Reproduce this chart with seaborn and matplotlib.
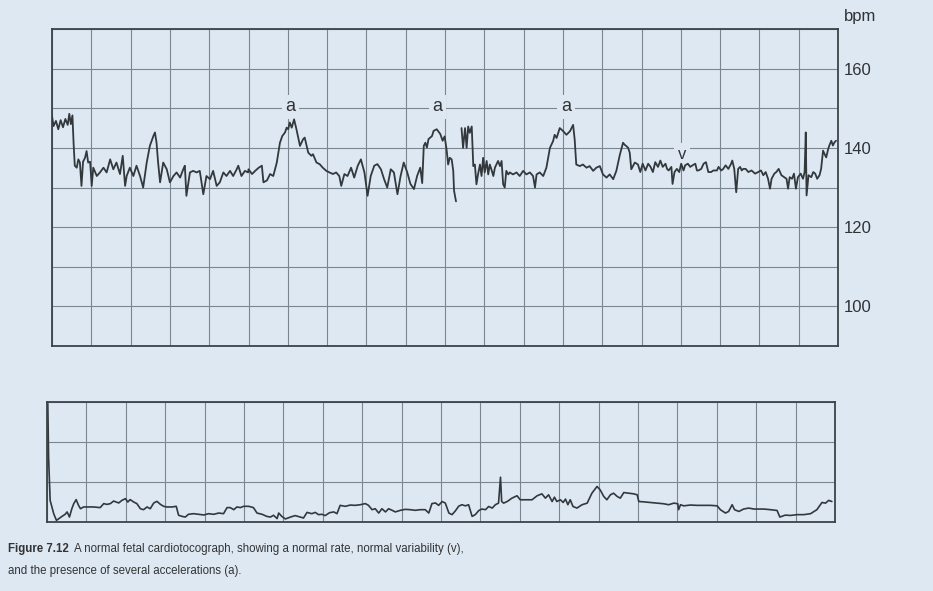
"""CTG trace - normal fetal cardiotocograph (Figure 7.12)"""

import pandas as pd
import matplotlib.pyplot as plt
import seaborn as sns

sns.set_style("white")
plt.rcParams['font.family'] = ['Liberation Sans', 'DejaVu Sans']

PAPER = '#dde8f2'
GRID = '#7a8791'
INK = '#33383d'

# --- fetal heart rate (minutes, bpm); pen lifts after GAP_AT ---
fhr_time = [
    0.00, 0.04, 0.10, 0.16, 0.22, 0.28, 0.34, 0.40, 0.44, 0.48, 0.52,
    0.55, 0.58, 0.63, 0.67, 0.71, 0.75, 0.79, 0.84, 0.88, 0.92, 0.97, 1.01,
    1.05, 1.14, 1.22, 1.31, 1.39, 1.48, 1.56, 1.64, 1.73, 1.80, 1.86, 1.90,
    1.98, 2.07, 2.15, 2.24, 2.32, 2.41, 2.49, 2.58, 2.62, 2.66, 2.70, 2.75,
    2.83, 2.92, 3.00, 3.09, 3.17, 3.26, 3.34, 3.38, 3.42, 3.51, 3.59, 3.68,
    3.76, 3.85, 3.93, 4.02, 4.10, 4.19, 4.27, 4.36, 4.44, 4.53, 4.61, 4.70,
    4.74, 4.82, 4.91, 4.99,
    5.00, 5.09, 5.17, 5.26, 5.34, 5.38, 5.47, 5.55, 5.63, 5.72, 5.80, 5.86,
    5.93, 5.97, 6.01, 6.05, 6.10, 6.16, 6.22, 6.31, 6.39, 6.43, 6.52, 6.60,
    6.64, 6.73, 6.81, 6.89, 6.98, 7.06, 7.15, 7.23, 7.31, 7.36, 7.44, 7.52,
    7.61, 7.69, 7.78, 7.86, 7.95, 8.03, 8.11, 8.20, 8.28, 8.37, 8.45, 8.53,
    8.62, 8.70, 8.79, 8.87, 8.95, 9.04, 9.12, 9.21, 9.29, 9.37, 9.42, 9.46,
    9.50, 9.54, 9.58, 9.67, 9.71, 9.79, 9.88, 9.94,
    9.99, 10.04, 10.08, 10.12, 10.17, 10.21, 10.23, 10.28,
    10.42, 10.46, 10.51, 10.55, 10.59, 10.63, 10.68, 10.72, 10.76, 10.80,
    10.84, 10.89, 10.93, 10.97, 11.01, 11.06, 11.10, 11.14, 11.18, 11.23,
    11.27, 11.35, 11.40, 11.44, 11.48, 11.52, 11.56, 11.61, 11.65, 11.73,
    11.82, 11.90, 11.99, 12.07, 12.16, 12.24, 12.29, 12.33, 12.41, 12.50,
    12.58, 12.67, 12.75, 12.79, 12.84, 12.92, 13.01, 13.09, 13.18, 13.26,
    13.30, 13.34, 13.43, 13.51, 13.60, 13.68, 13.77, 13.85, 13.94, 14.02,
    14.11, 14.19, 14.28, 14.36, 14.45, 14.53, 14.57, 14.62, 14.66, 14.70,
    14.74, 14.83, 14.91,
    14.97, 15.03, 15.10, 15.17, 15.23, 15.29, 15.35, 15.42, 15.48, 15.54,
    15.61, 15.65, 15.69, 15.76, 15.79, 15.84, 15.90, 15.96, 16.01, 16.07,
    16.11, 16.18, 16.24, 16.30, 16.37, 16.41, 16.45, 16.52, 16.58, 16.64,
    16.70, 16.77, 16.83, 16.92, 16.96, 17.03, 17.08, 17.14, 17.21, 17.28,
    17.31, 17.36, 17.41, 17.46, 17.51, 17.55, 17.59, 17.65, 17.72, 17.80,
    17.89, 17.97, 18.04, 18.10, 18.16, 18.22, 18.27, 18.31, 18.38, 18.43,
    18.49, 18.56, 18.63, 18.69, 18.73, 18.77, 18.83, 18.88, 18.93, 18.98,
    19.05, 19.11, 19.15, 19.18, 19.20, 19.25, 19.32, 19.37, 19.42, 19.47,
    19.53, 19.57, 19.62, 19.66, 19.70, 19.75, 19.78, 19.83, 19.87, 19.91,
    19.95,
]
fhr_bpm = [
    148.0, 145.5, 146.8, 144.7, 147.0, 145.2, 147.3, 145.8, 148.6, 146.0, 148.2,
    141.0, 135.5, 135.0, 137.1, 136.3, 130.4, 136.5, 137.5, 139.2, 136.3, 136.5, 130.4,
    135.0, 132.9, 133.8, 135.0, 133.8, 137.1, 134.6, 136.3, 133.4, 138.0, 130.4, 132.9,
    135.0, 132.9, 135.5, 132.9, 130.0, 136.3, 140.5, 143.0, 143.9, 141.3, 136.3, 131.3,
    136.3, 134.6, 131.3, 132.9, 133.8, 132.5, 134.6, 135.5, 127.9, 133.8, 134.2, 133.8,
    134.2, 128.3, 132.9, 132.1, 134.2, 130.4, 131.3, 133.8, 132.9, 134.2, 132.9, 134.6,
    135.5, 132.9, 134.2, 133.8,
    134.6, 133.4, 134.2, 135.0, 135.5, 131.3, 131.8, 133.4, 132.9, 136.3, 141.3, 143.0,
    143.9, 145.1, 144.7, 146.4, 145.1, 147.2, 144.7, 140.5, 142.2, 142.6, 138.8, 138.0,
    138.4, 136.3, 135.9, 135.0, 134.2, 133.8, 133.4, 133.8, 132.9, 130.4, 133.4, 132.9,
    135.0, 132.5, 135.5, 137.1, 133.8, 127.9, 132.9, 135.5, 135.9, 134.6, 132.1, 130.0,
    134.6, 133.8, 128.3, 132.9, 136.3, 133.8, 130.9, 129.6, 132.9, 135.0, 131.1, 140.5,
    141.3, 140.1, 142.2, 143.0, 144.3, 144.7, 143.5, 141.8,
    142.9, 139.6, 135.8, 137.5, 137.1, 134.2, 129.2, 126.5,
    145.0, 140.0, 145.0, 140.0, 145.4, 143.8, 145.4, 135.4, 135.8, 130.8,
    133.3, 135.8, 132.9, 137.5, 133.8, 136.7, 133.3, 135.8, 134.6, 132.9,
    135.0, 136.7, 135.4, 136.7, 130.8, 130.0, 134.2, 133.3, 133.8, 133.3,
    133.8, 132.9, 134.2, 133.3, 133.8, 132.9, 130.0, 133.3, 133.8, 132.9,
    135.0, 140.0, 141.7, 143.3, 142.5, 145.0, 144.2, 143.3, 144.2, 145.8,
    142.1, 135.8, 135.4, 135.8, 135.0, 135.4, 134.2, 135.0, 135.4, 133.3,
    132.5, 133.3, 132.1, 134.2, 138.3, 141.3, 140.8, 140.4, 140.0, 138.8,
    134.6, 136.3, 135.8,
    133.9, 136.0, 134.3, 136.0, 135.2, 133.9, 136.4, 135.2, 136.8, 135.2,
    136.0, 134.7, 134.3, 135.2, 130.9, 133.9, 134.7, 133.9, 136.0, 134.3,
    135.6, 136.0, 135.2, 135.6, 136.0, 134.3, 134.3, 134.7, 136.0, 136.4,
    133.9, 133.9, 134.3, 134.3, 135.2, 134.3, 134.7, 135.6, 134.7, 136.0,
    136.8, 134.7, 128.8, 134.7, 135.2, 134.3, 134.7, 134.7, 133.9, 134.3,
    133.5, 133.9, 134.3, 133.1, 133.9, 132.2, 129.7, 132.2, 133.5, 133.9,
    134.7, 133.1, 132.6, 132.2, 129.7, 132.6, 132.2, 133.5, 129.7, 132.6,
    133.5, 132.2, 133.9, 143.9, 128.0, 133.1, 132.6, 133.9, 133.5, 132.2,
    133.1, 134.7, 139.3, 138.4, 137.6, 139.7, 140.6, 141.8, 140.6, 141.4,
    141.8,
]
GAP_AT = 10.30

# --- uterine activity trace (minutes, arbitrary units 0-75) ---
toco_time = [
    0.02, 0.04, 0.08, 0.17, 0.24, 0.30, 0.38, 0.46, 0.51, 0.57, 0.63, 0.68,
    0.74, 0.80, 0.85, 0.93, 1.18, 1.35, 1.44, 1.52, 1.61, 1.69, 1.82, 1.90,
    1.99, 2.05, 2.11, 2.20, 2.28, 2.37, 2.45, 2.54, 2.62, 2.71, 2.79, 2.88,
    2.96, 3.04, 3.17, 3.28, 3.34, 3.43, 3.51, 3.59, 3.72, 3.85, 3.98, 4.10,
    4.23, 4.36, 4.48, 4.57, 4.65, 4.74, 4.82, 4.91, 4.99, 5.12, 5.24, 5.33,
    5.46, 5.58, 5.67, 5.75, 5.84, 5.88, 5.96, 6.05, 6.18, 6.30, 6.43, 6.51,
    6.60, 6.72, 6.81, 6.89, 6.98, 7.06, 7.17, 7.28, 7.36, 7.44, 7.57, 7.70,
    7.82, 7.95, 8.08, 8.16, 8.25, 8.33, 8.42, 8.50, 8.59, 8.67, 8.76, 8.84,
    8.97, 9.09, 9.22, 9.35, 9.47, 9.60, 9.69, 9.77, 9.86, 9.94,
    10.03, 10.11, 10.20, 10.28, 10.36, 10.45, 10.53, 10.62, 10.70, 10.79,
    10.87, 10.96, 11.04, 11.13, 11.21, 11.30, 11.38, 11.46, 11.51, 11.54,
    11.59, 11.68, 11.80, 11.93, 12.01, 12.18, 12.31, 12.44, 12.56, 12.65,
    12.73, 12.82, 12.88, 12.94, 13.03, 13.10, 13.16, 13.22, 13.28, 13.35,
    13.45, 13.58, 13.71, 13.83, 13.96, 14.04, 14.13, 14.21, 14.30, 14.38,
    14.47, 14.55, 14.64, 14.76, 14.89, 14.98, 15.02, 15.14, 15.31, 15.48,
    15.65, 15.78, 15.91, 16.01, 16.03, 16.08, 16.16, 16.33, 16.50, 16.67,
    16.84, 17.01, 17.09, 17.22, 17.30, 17.39, 17.45, 17.56, 17.68, 17.81,
    17.94, 18.06, 18.19, 18.36, 18.53, 18.60, 18.74, 18.87, 19.04, 19.21,
    19.38, 19.54, 19.67, 19.76, 19.84, 19.92,
]
toco_value = [
    74.0, 40.6, 13.5, 5.2, 1.0, 2.1, 3.5, 4.8, 6.3, 3.1, 8.3, 11.5,
    14.0, 10.4, 8.3, 9.4, 9.4, 9.0, 11.5, 11.0, 11.5, 13.1, 11.9, 13.5,
    14.6, 12.5, 14.0, 12.5, 11.5, 8.3, 7.7, 9.4, 8.3, 11.9, 12.9, 11.0,
    9.8, 9.4, 9.4, 9.8, 4.2, 3.5, 3.1, 4.8, 5.2, 4.8, 4.4, 5.2,
    4.8, 5.6, 5.2, 9.0, 9.0, 7.7, 9.4, 9.0, 9.8, 9.8, 9.0, 5.6,
    4.8, 3.5, 3.1, 4.2, 2.1, 5.6, 3.5, 1.9, 3.1, 4.0, 3.1, 2.5,
    6.0, 5.2, 6.0, 4.6, 4.8, 4.0, 5.8, 6.3, 5.2, 10.4, 9.8, 10.6,
    10.4, 10.8, 11.5, 10.4, 7.7, 8.3, 5.6, 8.3, 6.3, 8.3, 7.3, 6.3,
    7.3, 7.9, 7.7, 7.3, 7.7, 7.7, 5.6, 11.5, 11.9, 10.4,
    12.8, 11.8, 5.6, 4.6, 6.8, 9.9, 10.8, 10.1, 10.8, 3.5,
    4.6, 7.2, 8.1, 7.7, 9.7, 8.7, 10.8, 11.8, 28.0, 12.8,
    11.8, 12.8, 14.9, 16.4, 13.9, 13.9, 13.9, 16.4, 17.6, 14.9,
    17.0, 12.8, 15.5, 12.8, 13.9, 12.2, 14.3, 10.8, 13.9, 9.7,
    8.7, 10.8, 11.8, 18.0, 22.2, 20.1, 16.0, 13.9, 17.0, 18.0,
    16.0, 14.9, 18.4, 18.0, 17.6, 17.0, 12.8, 12.6, 12.2, 11.8,
    11.4, 10.8, 11.8, 11.4, 7.7, 10.8, 10.1, 10.6, 10.4, 10.4,
    10.4, 10.1, 7.7, 5.6, 6.6, 10.8, 7.7, 6.6, 8.1, 8.7,
    8.1, 8.1, 8.1, 7.7, 7.2, 3.1, 4.3, 4.1, 4.6, 4.6,
    5.2, 7.7, 12.2, 11.8, 13.5, 12.8,
]

bpm_ticks = [90, 100, 110, 120, 130, 140, 150, 160, 170]
bpm_labels = ['', '100', '', '120', '', '140', '', '160', '']
toco_ticks = [0, 25, 50, 75]
minutes = list(range(0, 21))

accel_marks = [(6.06, 150.4), (9.80, 150.4), (13.08, 150.4)]
variab_mark = (16.03, 138.3)

caption_bold = "Figure 7.12"
caption_l1 = "A normal fetal cardiotocograph, showing a normal rate, normal variability (v),"
caption_l2 = "and the presence of several accelerations (a)."

fhr = pd.DataFrame({'minute': fhr_time, 'bpm': fhr_bpm})
fhr['piece'] = (fhr['minute'] > GAP_AT).astype(int)
toco = pd.DataFrame({'minute': toco_time, 'value': toco_value})

fig = plt.figure(figsize=(9.33, 5.91), dpi=100, facecolor=PAPER)
ax = fig.add_axes([52 / 933, 1 - 346 / 591, 786 / 933, 317 / 591])
ax2 = fig.add_axes([47 / 933, 1 - 522 / 591, 788 / 933, 120 / 591])

for a in (ax, ax2):
    a.set_facecolor(PAPER)
    a.set_xlim(0, 20)
    a.set_xticks(minutes)
    a.set_xticklabels([])
    a.grid(True, color=GRID, lw=0.8)
    a.set_axisbelow(True)
    a.tick_params(length=0)
    for s in a.spines.values():
        s.set_visible(True)
        s.set_color('#3c4349')
        s.set_linewidth(1.3)

sns.lineplot(data=fhr, x='minute', y='bpm', units='piece', estimator=None,
             sort=False, ax=ax, color=INK, lw=1.3, zorder=3)
ax.set_ylim(90, 170)
ax.yaxis.tick_right()
ax.set_yticks(bpm_ticks)
ax.set_yticklabels(bpm_labels)
ax.tick_params(axis='y', pad=4, labelsize=12, labelcolor='#2f3236')
ax.set_xlabel('')
ax.set_ylabel('')

for x, y in accel_marks:
    ax.text(x, y, 'a', ha='center', va='center', fontsize=13, color='#2f3236',
            zorder=2, bbox=dict(boxstyle='square,pad=0.2', fc=PAPER, ec='none'))
ax.text(variab_mark[0], variab_mark[1], 'v', ha='center', va='center',
        fontsize=12, color='#2f3236', zorder=2,
        bbox=dict(boxstyle='square,pad=0.25', fc=PAPER, ec='none'))

fig.text(844 / 933, 1 - 17 / 591, 'bpm', ha='left', va='center',
         fontsize=12, color='#2f3236')

sns.lineplot(data=toco, x='minute', y='value', estimator=None, sort=False,
             ax=ax2, color=INK, lw=1.2)
ax2.set_ylim(0, 75)
ax2.set_yticks(toco_ticks)
ax2.set_yticklabels([])
ax2.set_xlabel('')
ax2.set_ylabel('')

# caption: bold figure number, then normal text; sized so line 1 ends near x=463
narrow = ['Liberation Sans Narrow', 'Liberation Sans', 'DejaVu Sans']
renderer = fig.canvas.get_renderer()
size = 9.5
t0 = fig.text(8 / 933, 1 - 549 / 591, caption_bold, ha='left', va='center',
              fontsize=size, fontweight='bold', family=narrow, color='#333333')
t1 = fig.text(0, 1 - 549 / 591, caption_l1, ha='left', va='center',
              fontsize=size, family=narrow, color='#333333')
w = t0.get_window_extent(renderer).width + 6 + t1.get_window_extent(renderer).width
size = size * 455 / w
t0.set_fontsize(size)
t1.set_fontsize(size)
bb = t0.get_window_extent(renderer)
t1.set_x((bb.x1 + 5) / 933)
fig.text(8 / 933, 1 - 571 / 591, caption_l2, ha='left', va='center',
         fontsize=size, family=narrow, color='#333333')

fig.savefig('out.png', dpi=100, facecolor=PAPER)
